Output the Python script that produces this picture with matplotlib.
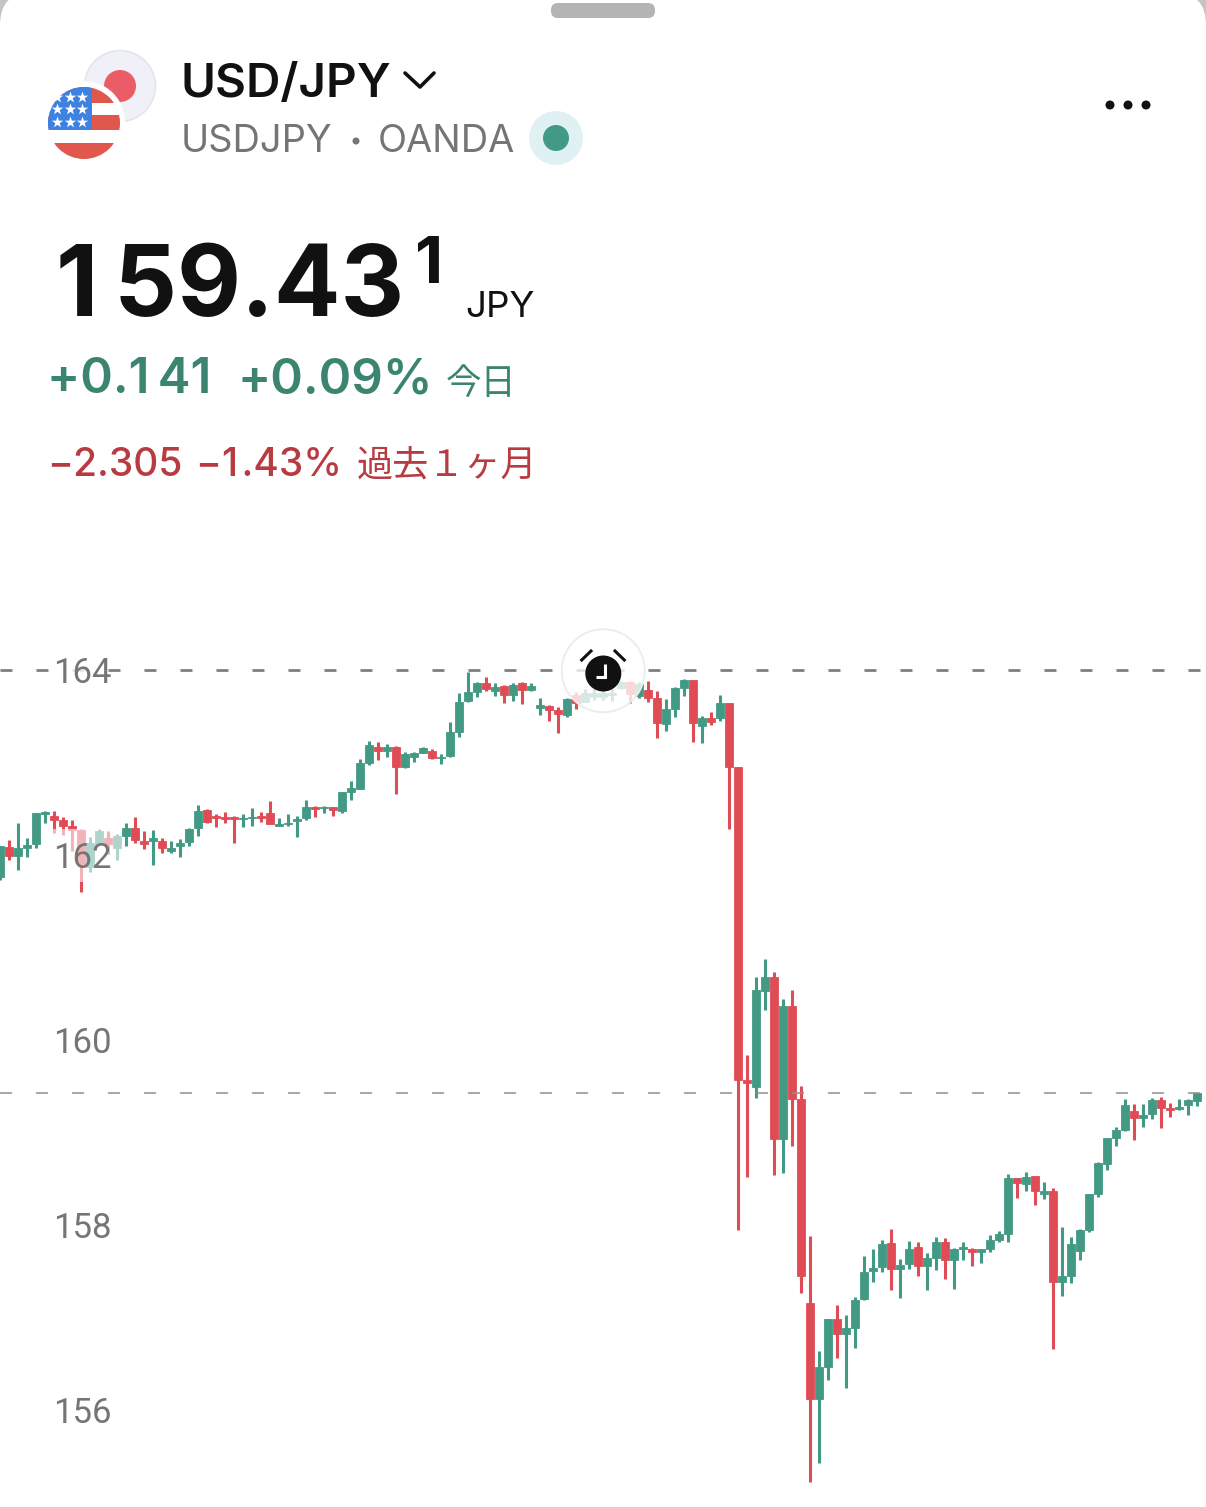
import matplotlib
matplotlib.use('Agg')
import matplotlib.pyplot as plt
import numpy as np
from matplotlib.patches import Circle, FancyBboxPatch, Rectangle
from matplotlib.transforms import Affine2D

plt.rcParams['lines.scale_dashes'] = False
plt.rcParams['font.family'] = ['Inter', 'Noto Sans CJK JP', 'DejaVu Sans']

opens = [161.76, 162.09, 161.99, 162.08, 162.12, 162.44, 162.42, 162.38, 162.31, 162.27,
         161.87, 162.12, 162.18, 162.08, 162.21, 162.29, 162.15, 162.15, 162.15, 162.04,
         162.10, 162.14, 162.29, 162.49, 162.42, 162.41, 162.41, 162.39, 162.40, 162.42,
         162.45, 162.31, 162.33, 162.37, 162.40, 162.52, 162.51, 162.52, 162.48, 162.68,
         162.71, 162.99, 163.17, 163.12, 163.17, 162.95, 163.06, 163.10, 163.12, 163.05,
         163.07, 163.33, 163.66, 163.76, 163.86, 163.77, 163.83, 163.73, 163.86, 163.78,
         163.59, 163.61, 163.57, 163.51, 163.73, 163.65, 163.71, 163.71, 163.73, 163.81,
         163.87, 163.72, 163.78, 163.70, 163.42, 163.58, 163.81, 163.89, 163.39, 163.48,
         163.48, 163.64, 162.95, 159.57, 159.49, 160.53, 160.68, 158.93, 160.37, 159.36,
         157.16, 156.12, 156.46, 156.98, 156.82, 156.89, 157.20, 157.50, 157.55, 157.81,
         157.52, 157.58, 157.76, 157.56, 157.64, 157.82, 157.62, 157.74, 157.74, 157.71,
         157.74, 157.84, 157.90, 158.51, 158.44, 158.53, 158.34, 158.37, 157.38, 157.45,
         157.72, 157.95, 158.34, 158.66, 158.94, 159.03, 159.23, 159.16, 159.20, 159.35,
         159.26, 159.25, 159.30, 159.34]
highs = [162.10, 162.16, 162.35, 162.18, 162.45, 162.48, 162.48, 162.41, 162.38, 162.28,
         162.20, 162.28, 162.26, 162.23, 162.35, 162.41, 162.26, 162.27, 162.18, 162.15,
         162.17, 162.29, 162.54, 162.50, 162.44, 162.47, 162.42, 162.44, 162.51, 162.47,
         162.58, 162.40, 162.44, 162.42, 162.59, 162.53, 162.53, 162.52, 162.68, 162.80,
         163.04, 163.23, 163.22, 163.20, 163.18, 163.11, 163.11, 163.17, 163.15, 163.09,
         163.44, 163.75, 163.98, 163.87, 163.92, 163.86, 163.84, 163.86, 163.87, 163.86,
         163.70, 163.62, 163.60, 163.70, 163.76, 163.79, 163.81, 163.80, 163.81, 163.88,
         163.88, 163.87, 163.88, 163.77, 163.69, 163.82, 163.90, 163.89, 163.50, 163.55,
         163.73, 163.64, 162.95, 159.84, 160.68, 160.88, 160.74, 160.44, 160.54, 159.50,
         157.88, 156.64, 156.98, 157.14, 157.03, 157.22, 157.66, 157.74, 157.84, 157.96,
         157.63, 157.83, 157.82, 157.70, 157.87, 157.86, 157.75, 157.82, 157.75, 157.74,
         157.89, 157.94, 158.55, 158.51, 158.57, 158.53, 158.46, 158.40, 157.98, 157.87,
         157.96, 158.34, 158.68, 158.94, 159.06, 159.36, 159.31, 159.31, 159.37, 159.38,
         159.32, 159.36, 159.36, 159.43]
lows = [161.73, 161.95, 161.84, 161.98, 162.08, 162.35, 162.24, 162.22, 162.04, 161.60,
        161.82, 162.11, 162.01, 161.95, 162.10, 162.13, 162.07, 161.89, 162.02, 162.02,
        161.98, 162.10, 162.21, 162.35, 162.30, 162.35, 162.13, 162.30, 162.31, 162.36,
        162.33, 162.31, 162.31, 162.20, 162.38, 162.41, 162.45, 162.42, 162.45, 162.59,
        162.71, 162.97, 163.03, 163.06, 162.66, 162.94, 163.01, 163.10, 163.04, 162.98,
        163.06, 163.28, 163.65, 163.71, 163.77, 163.72, 163.64, 163.66, 163.63, 163.77,
        163.51, 163.45, 163.32, 163.49, 163.58, 163.65, 163.68, 163.68, 163.66, 163.79,
        163.64, 163.70, 163.65, 163.26, 163.34, 163.49, 163.72, 163.22, 163.21, 163.41,
        163.45, 162.28, 157.95, 158.52, 159.37, 160.32, 158.54, 158.56, 158.85, 157.26,
        155.22, 155.43, 156.32, 156.56, 156.24, 156.67, 157.19, 157.38, 157.49, 157.30,
        157.21, 157.52, 157.45, 157.30, 157.51, 157.42, 157.31, 157.62, 157.56, 157.59,
        157.71, 157.82, 157.82, 158.29, 158.37, 158.22, 158.28, 156.66, 157.23, 157.37,
        157.62, 157.92, 158.30, 158.59, 158.85, 159.02, 158.92, 159.06, 159.15, 159.05,
        159.17, 159.24, 159.19, 159.29]
closes = [162.10, 161.99, 162.08, 162.11, 162.45, 162.47, 162.38, 162.31, 162.27, 161.90,
          162.13, 162.26, 162.12, 162.21, 162.29, 162.16, 162.12, 162.18, 162.08, 162.08,
          162.13, 162.28, 162.48, 162.36, 162.40, 162.39, 162.39, 162.40, 162.41, 162.40,
          162.34, 162.34, 162.35, 162.39, 162.52, 162.50, 162.52, 162.49, 162.68, 162.72,
          162.99, 163.19, 163.12, 163.17, 162.95, 163.09, 163.10, 163.16, 163.05, 163.06,
          163.33, 163.65, 163.76, 163.86, 163.79, 163.82, 163.73, 163.84, 163.78, 163.83,
          163.62, 163.57, 163.52, 163.69, 163.64, 163.75, 163.75, 163.75, 163.75, 163.87,
          163.74, 163.85, 163.70, 163.43, 163.58, 163.81, 163.89, 163.43, 163.48, 163.44,
          163.64, 162.95, 159.57, 159.54, 160.54, 160.68, 158.93, 160.37, 159.36, 157.45,
          156.12, 156.46, 156.98, 156.82, 156.89, 157.19, 157.49, 157.54, 157.79, 157.52,
          157.57, 157.74, 157.56, 157.64, 157.82, 157.62, 157.74, 157.76, 157.71, 157.74,
          157.84, 157.90, 158.51, 158.45, 158.52, 158.37, 158.37, 157.38, 157.45, 157.79,
          157.95, 158.34, 158.67, 158.94, 159.03, 159.30, 159.16, 159.19, 159.35, 159.26,
          159.24, 159.28, 159.35, 159.43]

price_ticks = [156, 158, 160, 162, 164]
last_price = 159.43
high_line = 164

GREEN = '#429a85'
RED = '#e04c55'
THIN = '\u2009'  # widens the narrow Inter "1" towards the tabular one in the reference
HAIR = '\u200a'
W, H = 1206, 1507

fig = plt.figure(figsize=(W / 100, H / 100), dpi=100, facecolor='white')

# phone UI in pixel coordinates
ui = fig.add_axes([0, 0, 1, 1])
ui.set_xlim(0, W)
ui.set_ylim(H, 0)
ui.axis('off')

ui.add_patch(Rectangle((0, 0), W, 25, color='#c4c4c4', lw=0))
ui.add_patch(FancyBboxPatch((33, 25), W - 66, H, boxstyle='round,pad=33', color='white', lw=0))
ui.add_patch(FancyBboxPatch((558, 10), 90, 1, boxstyle='round,pad=7', color='#b4b4b4', lw=0))

# flags
ui.add_patch(Circle((120, 86), 35.5, fc='#f0f1f8', ec='#e3e5ef', lw=1.2))
ui.add_patch(Circle((120, 86), 16, color='#ea5d67', lw=0))
ui.add_patch(Circle((84, 122), 41, color='white', lw=0))
clip = Circle((84, 123), 36, transform=ui.transData)
for y0, y1, c in [(87, 103, '#e0574e'), (103, 115, 'white'), (115, 130, '#e0574e'),
                  (130, 143, 'white'), (143, 160, '#e0574e')]:
    ui.add_patch(Rectangle((48, y0), 72, y1 - y0, color=c, lw=0, clip_path=clip))
ui.add_patch(Rectangle((48, 87), 44, 43, color='#3d82e0', lw=0, clip_path=clip))
for sy in [97, 109, 122]:
    ui.scatter([57, 70, 82], [sy] * 3, marker='*', s=75, color='white', lw=0, zorder=3)

ui.text(180, 97, 'USD/JPY', fontsize=34.3, color='#111111', weight='semibold', va='baseline')
ui.plot([405, 420, 434], [73, 87, 73], color='#111111', lw=2.6, solid_capstyle='round')
ui.text(181, 152, 'USDJPY', fontsize=27.3, color='#757575', va='baseline')
ui.add_patch(Circle((356, 141), 3.5, color='#757575', lw=0))
ui.text(378, 152, 'OANDA', fontsize=27.3, color='#757575', va='baseline')
ui.add_patch(Circle((556, 138), 27, color='#e0f1f4', lw=0))
ui.add_patch(Circle((556, 138), 13, color=GREEN, lw=0))
for dx in [1110, 1128, 1146]:
    ui.add_patch(Circle((dx, 105), 4.5, color='#111111', lw=0))

ui.text(56, 316, '1' + THIN + '59.43', fontsize=71, color='#111111', weight='bold', va='baseline')
ui.text(415, 283, '1', fontsize=47, color='#111111', weight='bold', va='baseline')
ui.text(465, 317, 'JPY', fontsize=26.5, color='#111111', va='baseline')
ui.text(47, 393, '+0.1' + THIN + '41', fontsize=35.5, color='#3b8570', weight='semibold', va='baseline')
ui.text(237, 393, '+0.09%', fontsize=35.5, color='#3b8570', weight='semibold', va='baseline')
ui.text(446, 394, '今日', fontsize=25.5, color='#3b8570', family='Noto Sans CJK JP', va='baseline')
ui.text(47, 476, '−2.305', fontsize=28, color='#b83b42', weight='medium', va='baseline')
ui.text(196, 476, '−1' + HAIR + '.43%', fontsize=28, color='#b83b42', weight='medium', va='baseline')
ui.text(357, 476, '過去１ヶ月', fontsize=26, color='#b83b42', family='Noto Sans CJK JP', va='baseline')

# price chart, y scale set so 2 yen = 185 px
ax = fig.add_axes([0, 0, 1, 1])
ax.patch.set_visible(False)
ax.set_xlim(0, 134)
ax.set_ylim(164 - (H - 670) / 92.5, 164 + 670 / 92.5)
for s in ax.spines.values():
    s.set_visible(False)
ax.set_xticks([])
ax.set_yticks(price_ticks)
ax.tick_params(axis='y', left=False, pad=-42, labelsize=25, labelcolor='#757575')
for lab in ax.get_yticklabels():
    lab.set_ha('left')
    lab.set_family('Roboto')
ax.set_axisbelow(False)

idx = np.arange(len(opens))
op = np.array(opens)
cl = np.array(closes)
colors = [GREEN if c >= o else RED for o, c in zip(opens, closes)]
ax.vlines(idx, lows, highs, colors=colors, lw=2.2, capstyle='butt', zorder=1)
ax.bar(idx, np.abs(cl - op), bottom=np.minimum(op, cl), width=0.88, color=colors,
       edgecolor=colors, linewidth=0.6, zorder=1.5)

ax.axhline(high_line, color='#808080', lw=2.0, ls=(0, (8.64, 17.28)), zorder=2)
ax.axhline(last_price, color='#909090', lw=1.1, ls=(0, (8.64, 17.28)), zorder=2)

# overlays on the chart, in screen pixels
px = Affine2D().scale(1, -1).translate(0, H)
ax.add_patch(Rectangle((50, 829), 72, 53, fc='white', alpha=0.58, lw=0, transform=px, zorder=2.2))
ax.add_patch(Rectangle((50, 644), 55, 53, fc='white', alpha=0.8, lw=0, transform=px, zorder=2.2))
ax.add_patch(Circle((603.3, 670.7), 41.5, fc='white', alpha=0.78, lw=0, transform=px, zorder=2.2))
ax.add_patch(Circle((603.3, 670.7), 41.5, fill=False, ec='#ececec', lw=1.3, transform=px, zorder=2.3))
ax.add_patch(Circle((603.3, 673.5), 18, color='#111111', lw=0, transform=px, zorder=3))
ax.plot([604.5, 604.5, 596], [664, 676.5, 676.5], color='white', lw=2.2, transform=px, zorder=4,
        solid_joinstyle='miter', solid_capstyle='butt')
ax.plot([581.7, 591], [660, 651], color='#111111', lw=2.2, transform=px, zorder=3)
ax.plot([615, 624.3], [651, 660], color='#111111', lw=2.2, transform=px, zorder=3)

fig.savefig('out.png', dpi=100)
